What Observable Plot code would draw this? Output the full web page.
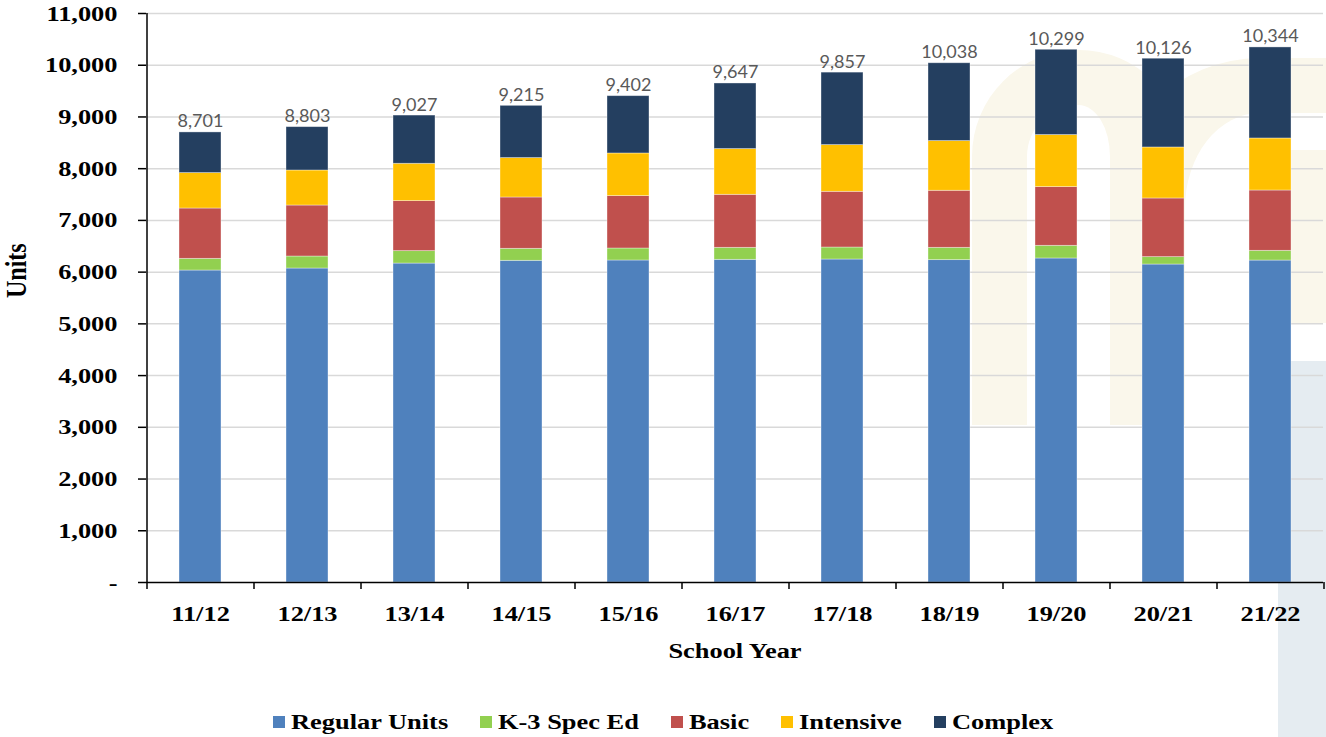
<!DOCTYPE html>
<html>
<head>
<meta charset="utf-8">
<script src="https://cdn.jsdelivr.net/npm/d3@7"></script>
<script src="https://cdn.jsdelivr.net/npm/@observablehq/plot@0.6"></script>
<style>
  body { margin: 0; background: #fff; }
  #wrap { position: relative; width: 1326px; height: 737px; overflow: hidden; background: #fff; }
  .deco { position: absolute; box-sizing: border-box; }
  #chart { position: absolute; left: 0; top: 0; }
  #legend { position: absolute; left: 0; top: 710px; width: 1326px; display: flex; justify-content: center; align-items: center;
            font-family: "Liberation Serif", "Times New Roman", serif; font-weight: bold; font-size: 22px; color: #000; }
  .item { display: flex; align-items: center; margin: 0 16px; }
  .sw { width: 12px; height: 12px; margin-right: 6px; flex: none; }
  .lab { display: inline-block; white-space: nowrap; line-height: 24px; }
  .lab span { display: inline-block; transform: scaleX(1.2); transform-origin: left center; }
</style>
</head>
<body>
<div id="wrap">
  <div class="deco" style="left:972px;top:50px;width:213px;height:375px;border:solid #faf7eb;border-width:55px 75px 0 55px;border-radius:110px 110px 0 0;"></div>
  <div class="deco" style="left:1110px;top:58px;width:300px;height:265px;border:solid #faf7eb;border-width:55px 0 0 75px;border-radius:150px 0 0 0;"></div>
  <div class="deco" style="left:1291px;top:150px;width:40px;height:173px;background:#faf7eb;"></div>
  <div class="deco" style="left:1278px;top:361px;width:48px;height:376px;background:#e5ecf1;"></div>
  <div id="chart"></div>
  <div id="legend"></div>
</div>
<script>
const years = ["11/12","12/13","13/14","14/15","15/16","16/17","17/18","18/19","19/20","20/21","21/22"];
const seriesNames = ["Regular Units","K-3 Spec Ed","Basic","Intensive","Complex"];
const seriesColors = ["#4f81bd","#92d050","#c0504d","#ffc000","#243f60"];
const regularUnits = [6031,6070,6166,6219,6225,6238,6244,6232,6264,6147,6224];
const k3SpecEd     = [226,232,240,232,232,232,232,238,245,143,188];
const basic        = [973,986,967,992,1013,1025,1077,1103,1135,1134,1166];
const intensive    = [685,677,722,762,824,884,903,961,1006,986,1006];
const complex      = [786,838,932,1010,1108,1268,1401,1504,1649,1716,1760];
const totals       = [8701,8803,9027,9215,9402,9647,9857,10038,10299,10126,10344];
const yTicks = d3.range(0, 11001, 1000);

const seriesValues = [regularUnits, k3SpecEd, basic, intensive, complex];
const table = seriesNames.flatMap((s, si) => years.map((yr, i) => ({year: yr, series: s, value: seriesValues[si][i]})));
const totalRows = years.map((yr, i) => ({year: yr, total: totals[i]}));

const W = 1326, H = 680, ML = 146, MR = 3, MT = 13, MB = 98;
const step = (W - ML - MR) / years.length;
const serif = "Liberation Serif, Times New Roman, serif";
const fmt = d3.format(",");

const chart = Plot.plot({
  width: W, height: H,
  marginLeft: ML, marginRight: MR, marginTop: MT, marginBottom: MB,
  style: {background: "transparent"},
  x: {type: "band", domain: years, paddingInner: 0.61, paddingOuter: 0.305, axis: null},
  y: {domain: [0, 11000], axis: null},
  color: {domain: seriesNames, range: seriesColors},
  marks: [
    Plot.gridY(yTicks.slice(1), {stroke: "#d9d9d9", strokeOpacity: 1, strokeWidth: 1.5}),
    Plot.barY(table, {x: "year", y: "value", fill: "series", stroke: "#ffffff", strokeOpacity: 0.45, strokeWidth: 0.8}),
    Plot.ruleY([0], {stroke: "#000", strokeWidth: 1.5}),
    Plot.ruleX([years[0]], {x: d => d, y1: 0, y2: 11000, dx: -step / 2, stroke: "#000", strokeWidth: 1.5}),
    Plot.axisY({ticks: yTicks, tickSize: 8, tickPadding: 21, stroke: "#000", strokeWidth: 1.5,
      tickFormat: d => d === 0 ? "-" : fmt(d),
      fontFamily: serif, fontWeight: "bold", fontSize: 22, fill: "#000", label: null}),
    Plot.axisX({tickSize: 0, tickPadding: 23, fontFamily: serif, fontWeight: "bold", fontSize: 22, fill: "#000", label: null}),
    Plot.axisX({tickSize: 7, tickFormat: () => "", dx: -step / 2, stroke: "#000", strokeWidth: 1.5, label: null}),
    Plot.axisX({ticks: [years[years.length - 1]], tickSize: 7, tickFormat: () => "", dx: step / 2, stroke: "#000", strokeWidth: 1.5, label: null}),
    Plot.text(totalRows, {x: "year", y: "total", text: d => fmt(d.total), lineAnchor: "bottom", dy: -5,
      fontFamily: "Lato, Open Sans, sans-serif", fontSize: 18, fill: "#595959"}),
    Plot.text(["Units"], {text: d => d, frameAnchor: "left", dx: -130, rotate: -90,
      fontFamily: serif, fontWeight: "bold", fontSize: 24, fill: "#000"}),
    Plot.text(["School Year"], {text: d => d, frameAnchor: "bottom", dy: 75,
      fontFamily: serif, fontWeight: "bold", fontSize: 22, fill: "#000"})
  ]
});

// widen serif text horizontally to match the reference's stretched type
const SX = 1.2;
chart.querySelectorAll("text").forEach(t => {
  const g = t.closest("[font-family]");
  const ff = g ? g.getAttribute("font-family") : "";
  if (!ff.includes("Liberation Serif")) return;
  const x = +t.getAttribute("x") || 0, y = +t.getAttribute("y") || 0;
  const tr = t.getAttribute("transform") || "";
  const s = tr.includes("rotate") ? `scale(1,${SX})` : `scale(${SX},1)`;
  t.setAttribute("transform", `${tr} translate(${x},${y}) ${s} translate(${-x},${-y})`);
});
document.getElementById("chart").appendChild(chart);

// legend
const legend = document.getElementById("legend");
seriesNames.forEach((name, i) => {
  const item = document.createElement("div");
  item.className = "item";
  const sw = document.createElement("div");
  sw.className = "sw";
  sw.style.background = seriesColors[i];
  const lab = document.createElement("div");
  lab.className = "lab";
  const span = document.createElement("span");
  span.textContent = name;
  lab.appendChild(span);
  item.appendChild(sw);
  item.appendChild(lab);
  legend.appendChild(item);
});
legend.querySelectorAll(".lab").forEach(lab => {
  const w = lab.getBoundingClientRect().width;
  lab.style.width = (w * SX) + "px";
});
</script>
</body>
</html>
